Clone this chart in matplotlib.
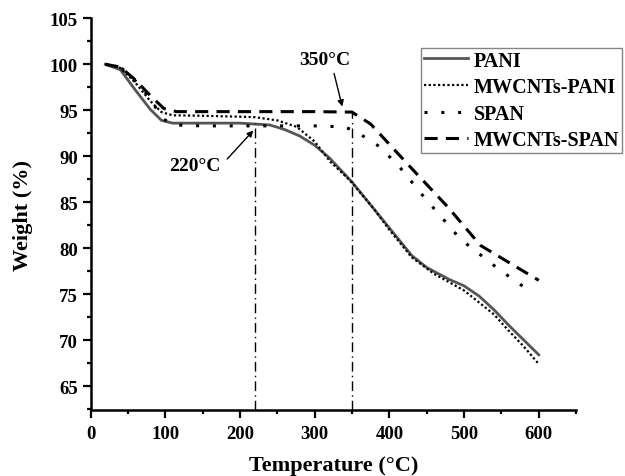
import matplotlib
matplotlib.use("Agg")
import matplotlib.pyplot as plt
from matplotlib.ticker import MultipleLocator

plt.rcParams['font.family'] = ['Liberation Serif', 'DejaVu Serif']
plt.rcParams['font.weight'] = 'bold'

# TGA curves (temperature in degC, weight in %)
pani_t = [20, 40, 60, 80, 95, 110, 150, 200, 240, 260, 280, 300, 320, 350,
          380, 400, 430, 450, 480, 500, 520, 540, 560, 580, 600]
pani_w = [100, 99.4, 97.2, 95.1, 93.9, 93.6, 93.6, 93.6, 93.4, 92.9, 92.2, 91.2,
          89.8, 87.2, 84.2, 82.2, 79.2, 77.9, 76.6, 75.9, 74.8, 73.3, 71.6, 70.0, 68.4]

mwpani_t = [20, 40, 60, 80, 95, 110, 150, 200, 220, 250, 276, 300, 321, 343,
            350, 380, 400, 430, 460, 500, 540, 560, 580, 600]
mwpani_w = [100, 99.6, 98.0, 96.0, 94.8, 94.45, 94.4, 94.3, 94.25, 93.9, 93.2,
            91.6, 89.4, 87.7, 87.1, 84.2, 82.0, 79.0, 77.2, 75.4, 72.8, 71.0, 69.3, 67.4]

span_t = [20, 40, 60, 80, 95, 110, 150, 200, 250, 300, 340, 357, 384, 410,
          446, 495, 545, 590]
span_w = [100, 99.7, 98.2, 96.3, 94.2, 93.4, 93.3, 93.3, 93.3, 93.3, 93.2,
          92.6, 91.2, 89.2, 85.6, 81.0, 77.8, 75.2]

mwspan_t = [20, 40, 60, 80, 98, 115, 150, 200, 250, 300, 350, 375, 400, 433,
            478, 522, 567, 600]
mwspan_w = [100, 99.7, 98.3, 96.6, 95.2, 94.85, 94.85, 94.85, 94.85, 94.85,
            94.8, 93.5, 91.3, 88.4, 84.5, 80.3, 78.1, 76.5]

# onset temperatures marked on the plot
onset_t = [220, 350]
onset_w = [93.6, 94.8]
onset_labels = ['220°C', '350°C']

fig = plt.figure(figsize=(6.25, 4.77), dpi=100)
ax = fig.add_axes([0.1448, 0.1384, 0.777, 0.8211])

ax.plot(pani_t, pani_w, color='#555555', lw=2.0, label='PANI')
ax.plot(mwpani_t, mwpani_w, color='black', lw=1.6, ls=(0, (1, 1.1)), label='MWCNTs-PANI')
ax.plot(span_t, span_w, color='black', lw=2.2, ls=(0, (1, 4.5)), label='SPAN')
ax.plot(mwspan_t, mwspan_w, color='black', lw=2.2, ls=(0, (4.3, 2.7)), label='MWCNTs-SPAN')

ax.set_xlim(0, 650)
ax.set_ylim(62.4, 105)

for t, w in zip(onset_t, onset_w):
    ax.plot([t, t], [62.4, w], color='black', lw=1.0, ls=(0, (7, 3, 1, 3)))

# labels and arrows for the onset points
arrow = dict(arrowstyle='-|>', color='black', lw=1.0, mutation_scale=9,
             shrinkA=0, shrinkB=0)
ax.text(140, 89.0, onset_labels[0], fontsize=14, fontweight='bold',
        ha='center', va='center')
ax.annotate('', xy=(218, 92.8), xytext=(183, 89.7), arrowprops=arrow)
ax.text(314, 100.5, onset_labels[1], fontsize=14, fontweight='bold',
        ha='center', va='center')
ax.annotate('', xy=(337, 95.4), xytext=(326, 99.0), arrowprops=arrow)

ax.spines['top'].set_visible(False)
ax.spines['right'].set_visible(False)
ax.spines['left'].set_linewidth(1.8)
ax.spines['bottom'].set_linewidth(1.8)

ax.xaxis.set_major_locator(MultipleLocator(100))
ax.xaxis.set_minor_locator(MultipleLocator(50))
ax.yaxis.set_major_locator(MultipleLocator(5))
ax.yaxis.set_minor_locator(MultipleLocator(2.5))
ax.set_xticks(range(0, 601, 100))
ax.set_yticks(range(65, 106, 5))
ax.tick_params(which='major', direction='out', length=5.5, width=1.6,
               labelsize=13.5)
ax.tick_params(axis='x', which='major', pad=5)
ax.tick_params(which='minor', direction='out', length=3, width=1.6)
for lab in ax.get_xticklabels() + ax.get_yticklabels():
    lab.set_fontweight('bold')

ax.set_xlabel('Temperature (°C)', fontsize=16, fontweight='bold', labelpad=10)
ax.set_ylabel('Weight (%)', fontsize=16, fontweight='bold', labelpad=12)

leg = ax.legend(loc='upper left', bbox_to_anchor=(0.681, 0.924), borderaxespad=0,
                fontsize=14.5, frameon=True, fancybox=False, borderpad=0.12,
                labelspacing=0.33, handlelength=2.2, handletextpad=0.3)
leg.get_frame().set_edgecolor('#666666')
leg.get_frame().set_linewidth(1.0)
for txt in leg.get_texts():
    txt.set_fontweight('bold')

fig.savefig('out.png', dpi=100)
